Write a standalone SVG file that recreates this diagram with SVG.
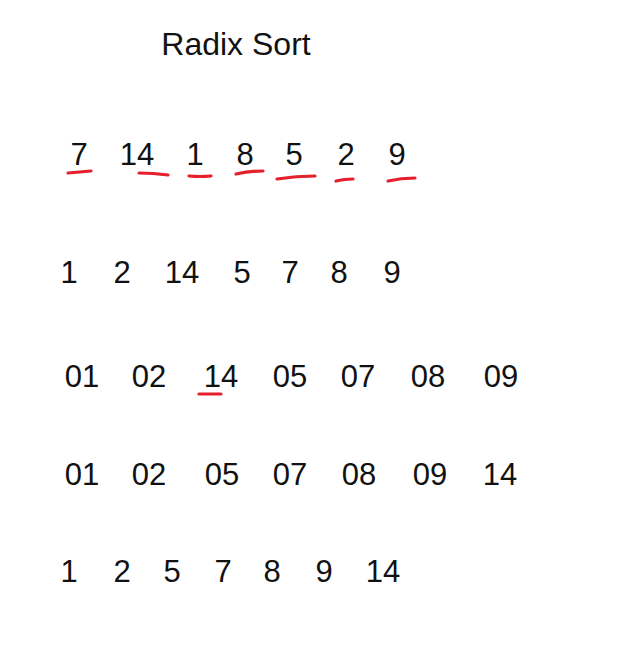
<svg xmlns="http://www.w3.org/2000/svg" width="624" height="653" viewBox="0 0 624 653">
<style>
text{font-family:"Liberation Sans","DejaVu Sans",sans-serif;fill:#111;text-anchor:middle}
.t{font-size:32px}
.n{font-size:31px}
.u{fill:none;stroke:#e3202c;stroke-width:3.2;stroke-linecap:round}
</style>
<rect width="624" height="653" fill="#fff"/>
<text class="t" x="236" y="55">Radix Sort</text>
<g id="row1">
<text class="n" x="79" y="165">7</text>
<text class="n" x="137" y="165">14</text>
<text class="n" x="195" y="165">1</text>
<text class="n" x="245" y="165">8</text>
<text class="n" x="294" y="165">5</text>
<text class="n" x="346" y="165">2</text>
<text class="n" x="397" y="165">9</text>
</g>
<g id="underlines1">
<path class="u" d="M68 173 Q80 172 91 171"/>
<path class="u" d="M139 173 Q153 173 168 175"/>
<path class="u" d="M189 176 Q200 177 211 176"/>
<path class="u" d="M236 174 Q249 171 263 171"/>
<path class="u" d="M277 179 Q296 176 315 176"/>
<path class="u" d="M336 181 Q344 179 353 179"/>
<path class="u" d="M388 181 Q401 178 415 178"/>
</g>
<g id="row2">
<text class="n" x="69" y="283">1</text>
<text class="n" x="122" y="283">2</text>
<text class="n" x="182" y="283">14</text>
<text class="n" x="242" y="283">5</text>
<text class="n" x="290" y="283">7</text>
<text class="n" x="339" y="283">8</text>
<text class="n" x="392" y="283">9</text>
</g>
<g id="row3">
<text class="n" x="82" y="387">01</text>
<text class="n" x="149" y="387">02</text>
<text class="n" x="221" y="387">14</text>
<text class="n" x="290" y="387">05</text>
<text class="n" x="358" y="387">07</text>
<text class="n" x="428" y="387">08</text>
<text class="n" x="501" y="387">09</text>
<path class="u" d="M199 394 Q210 394 221 394"/>
</g>
<g id="row4">
<text class="n" x="82" y="485">01</text>
<text class="n" x="149" y="485">02</text>
<text class="n" x="222" y="485">05</text>
<text class="n" x="290" y="485">07</text>
<text class="n" x="359" y="485">08</text>
<text class="n" x="430" y="485">09</text>
<text class="n" x="500" y="485">14</text>
</g>
<g id="row5">
<text class="n" x="69" y="582">1</text>
<text class="n" x="122" y="582">2</text>
<text class="n" x="172" y="582">5</text>
<text class="n" x="223" y="582">7</text>
<text class="n" x="272" y="582">8</text>
<text class="n" x="324" y="582">9</text>
<text class="n" x="383" y="582">14</text>
</g>
</svg>
